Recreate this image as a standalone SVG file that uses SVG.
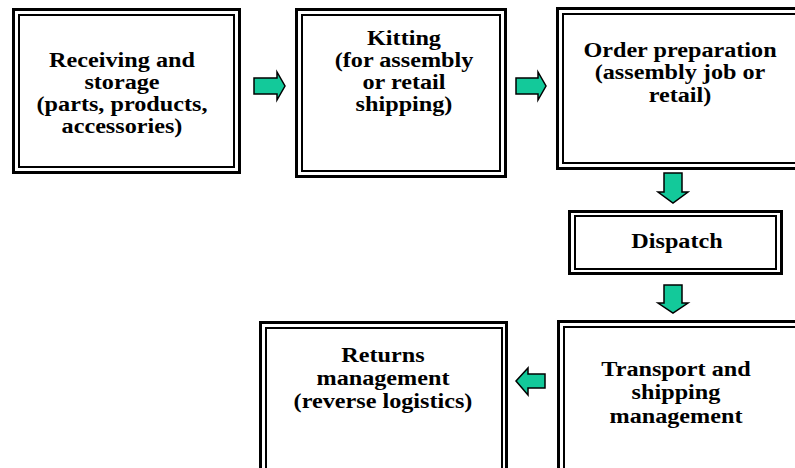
<svg xmlns="http://www.w3.org/2000/svg" width="795" height="468" viewBox="0 0 795 468">
<style>
.o{fill:#fff;stroke:#000;stroke-width:3}
.i{fill:none;stroke:#000;stroke-width:2}
text{font-family:'Liberation Serif','Times New Roman',serif;font-weight:700;font-size:22px;text-anchor:middle;fill:#000}
.a{fill:#13C99A;stroke:#000;stroke-width:1.5;stroke-linejoin:miter}
</style>
<rect width="795" height="468" fill="#fff"/>
<g id="receiving">
<rect class="o" x="13.5" y="9.5" width="226" height="163"/>
<rect class="i" x="19" y="15" width="215" height="152"/>
<text font-family="Liberation Serif, serif" transform="translate(122,0) scale(1.1,1)"><tspan x="0" y="67">Receiving and</tspan><tspan x="0" y="89">storage</tspan><tspan x="0" y="111">(parts, products,</tspan><tspan x="0" y="133">accessories)</tspan></text>
</g>
<g id="kitting">
<rect class="o" x="296.5" y="9.5" width="209" height="167"/>
<rect class="i" x="302" y="15" width="198" height="156"/>
<text font-family="Liberation Serif, serif" transform="translate(404,0) scale(1.1,1)"><tspan x="0" y="45">Kitting</tspan><tspan x="0" y="67">(for assembly</tspan><tspan x="0" y="89">or retail</tspan><tspan x="0" y="111">shipping)</tspan></text>
</g>
<g id="order">
<rect class="o" x="557.5" y="8.5" width="250" height="160"/>
<rect class="i" x="563" y="14" width="240" height="149"/>
<text font-family="Liberation Serif, serif" transform="translate(680,0) scale(1.1,1)"><tspan x="0" y="57">Order preparation</tspan><tspan x="0" y="79">(assembly job or</tspan><tspan x="0" y="102">retail)</tspan></text>
</g>
<g id="dispatch">
<rect class="o" x="569.5" y="211.5" width="212" height="62"/>
<rect class="i" x="575" y="216" width="201" height="53"/>
<text font-family="Liberation Serif, serif" transform="translate(677,0) scale(1.1,1)" x="0" y="248">Dispatch</text>
</g>
<g id="transport">
<rect class="o" x="558.5" y="321.5" width="250" height="160"/>
<rect class="i" x="564" y="327" width="240" height="150"/>
<text font-family="Liberation Serif, serif" transform="translate(676,0) scale(1.1,1)"><tspan x="0" y="376">Transport and</tspan><tspan x="0" y="399">shipping</tspan><tspan x="0" y="423">management</tspan></text>
</g>
<g id="returns">
<rect class="o" x="260.5" y="322.5" width="246" height="160"/>
<rect class="i" x="266" y="328" width="236" height="150"/>
<text font-family="Liberation Serif, serif" transform="translate(383,0) scale(1.1,1)"><tspan x="0" y="362">Returns</tspan><tspan x="0" y="385">management</tspan><tspan x="0" y="408">(reverse logistics)</tspan></text>
</g>
<g id="connectors">
<polygon class="a" points="254,78 277,78 277,72 285,86 277,100 277,94 254,94"/>
<polygon class="a" points="516,78 538,78 538,72 546,86 538,100 538,94 516,94"/>
<polygon class="a" points="664,173 682,173 682,192 688,192 673,203 658,192 664,192"/>
<polygon class="a" points="664,285 682,285 682,303 688,303 673,313 658,303 664,303"/>
<polygon class="a" points="545,374 528,374 528,368 516,381 528,395 528,388 545,388"/>
</g>
</svg>
